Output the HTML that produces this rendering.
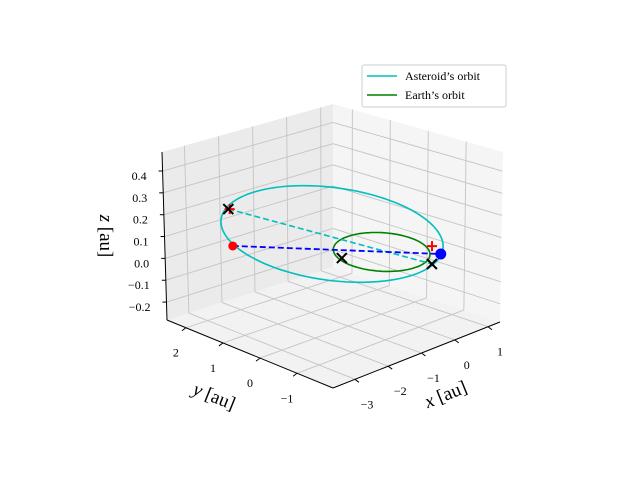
<!DOCTYPE html>
<html><head><meta charset="utf-8"><style>
html,body{margin:0;padding:0;background:#fff;}
svg{display:block;font-family:"Liberation Serif",serif;}
</style></head><body>
<svg id="chart" width="640" height="480" viewBox="0 0 640 480" xmlns="http://www.w3.org/2000/svg">
<g id="panes"></g>
<g id="grid"></g>
<g id="axes"></g>
<g id="series"></g>
<g id="labels"></g>
<text x="448" y="400" font-size="19" text-anchor="middle" transform="rotate(-22 448 400)"><tspan font-style="italic">x</tspan> [au]</text>
<text x="212" y="402" font-size="19" text-anchor="middle" transform="rotate(22 212 402)"><tspan font-style="italic">y</tspan> [au]</text>
<text x="100" y="236" font-size="19" text-anchor="middle" transform="rotate(90 100 236)"><tspan font-style="italic">z</tspan> [au]</text>
<g>
<rect x="362" y="65" width="144" height="42" rx="2" fill="#fff" fill-opacity="0.8" stroke="#ccc" stroke-width="1"/>
<line x1="367" y1="76" x2="397" y2="76" stroke="#00bfbf" stroke-width="1.5"/>
<text x="405" y="80" font-size="12">Asteroid’s orbit</text>
<line x1="367" y1="95" x2="397" y2="95" stroke="#008000" stroke-width="1.5"/>
<text x="405" y="99" font-size="12">Earth’s orbit</text>
</g>
</svg>
<script>
const xTicks=[-3,-2,-1,0,1];
const yTicks=[-1,0,1,2];
const zTicks=[-0.2,-0.1,0.0,0.1,0.2,0.3,0.4];
const xTickLabels=["−3","−2","−1","0","1"];
const yTickLabels=["−1","0","1","2"];
const zTickLabels=["−0.2","−0.1","0.0","0.1","0.2","0.3","0.4"];
const xRange=[-3.66,1.36];
const yRange=[-1.97,2.51];
const zRange=[-0.282,0.487];
const earthCenter=[0.05,0,0];
const earthRadius=[0.97];
const asteroidCenter=[-0.04,1.26,0];
const asteroidAxisU=[1.29,-1.84,0];
const asteroidAxisV=[1.71,1.62,0];
const redDot=[-2.01,2.17,0];
const blueDot=[0.88,-0.85,0];
const crossPoints=[[-0.70,3.47,0],[0.37,-1.07,0],[-0.79,0.32,0]];
const plusPoints=[[-0.68,3.45,0],[1.04,-0.47,0]];
const blueLine=[redDot,blueDot];
const cyanLine=[[-0.70,3.47,0],[0.37,-1.07,0]];

const NS="http://www.w3.org/2000/svg";
function mk(tag,attrs,parent){const e=document.createElementNS(NS,tag);for(const k in attrs)e.setAttribute(k,attrs[k]);parent.appendChild(e);return e;}
const C={b00:[333,388],b10:[500,322],b01:[167,320],b11:[333,267],t00:[333,213],t10:[503,152],t01:[162,152],t11:[333,104]};
function lerp(a,b,t){return [a[0]+(b[0]-a[0])*t,a[1]+(b[1]-a[1])*t];}
function box(u,v,w){
  const b=lerp(lerp(C.b00,C.b10,u),lerp(C.b01,C.b11,u),v);
  const t=lerp(lerp(C.t00,C.t10,u),lerp(C.t01,C.t11,u),v);
  return lerp(b,t,w);
}
function fx(x){return (x-xRange[0])/(xRange[1]-xRange[0]);}
function fy(y){return (y-yRange[0])/(yRange[1]-yRange[0]);}
function fz(z){return (z-zRange[0])/(zRange[1]-zRange[0]);}
const O=[380,252.6],EX=[33.3,-13.1],EY=[-37,-15.2],EZ=[-6.6,-221.6];
function P(p){return [O[0]+p[0]*EX[0]+p[1]*EY[0]+p[2]*EZ[0],O[1]+p[0]*EX[1]+p[1]*EY[1]+p[2]*EZ[1]];}
function pts(a){return a.map(p=>p[0].toFixed(1)+","+p[1].toFixed(1)).join(" ");}

const panes=document.getElementById('panes');
let e;
e=mk('polygon',{points:pts([box(0,0,0),box(1,0,0),box(1,1,0),box(0,1,0)]),fill:'#f2f2f2'},panes);


e=mk('polygon',{points:pts([box(0,1,0),box(1,1,0),box(1,1,1),box(0,1,1)]),fill:'#ebebeb'},panes);


e=mk('polygon',{points:pts([box(1,0,0),box(1,1,0),box(1,1,1),box(1,0,1)]),fill:'#f5f5f5'},panes);



const grid=document.getElementById('grid');
function gl(a,b,name){const l=mk('line',{x1:a[0],y1:a[1],x2:b[0],y2:b[1],stroke:'#c4c4c4','stroke-width':0.9},grid);}
xTicks.forEach(x=>{const u=fx(x);gl(box(u,0,0),box(u,1,0),'floor-grid-x');gl(box(u,1,0),box(u,1,1),'wall-grid-x');});
yTicks.forEach(y=>{const v=fy(y);gl(box(0,v,0),box(1,v,0),'floor-grid-y');gl(box(1,v,0),box(1,v,1),'wall-grid-y');});
zTicks.forEach(z=>{const w=fz(z);gl(box(0,1,w),box(1,1,w),'wall-grid-z');gl(box(1,1,w),box(1,0,w),'wall-grid-z');});

const axes=document.getElementById('axes');
function al(a,b,name){const l=mk('line',{x1:a[0],y1:a[1],x2:b[0],y2:b[1],stroke:'#000','stroke-width':1},axes);}
al(box(0,0,0),box(1,0,0),'x-axis-line');
al(box(0,0,0),box(0,1,0),'y-axis-line');
al(box(0,1,0),box(0,1,1),'z-axis-line');
const labels=document.getElementById('labels');
function tl(x,y,s,name,anchor){const t=mk('text',{x:x,y:y,'font-size':12,'text-anchor':anchor||'middle'},labels);t.textContent=s;}
xTicks.forEach((x,i)=>{const p=box(fx(x),0,0);al(p,[p[0]+4,p[1]+3],'x-tick');tl(p[0]+12,p[1]+29,xTickLabels[i],'x-tick-label');});
yTicks.forEach((y,i)=>{const p=box(0,fy(y),0);al(p,[p[0]-4,p[1]+3],'y-tick');tl(p[0]-10,p[1]+29,yTickLabels[i],'y-tick-label');});
zTicks.forEach((z,i)=>{const p=box(0,1,fz(z));al([p[0]-4,p[1]],p,'z-tick');tl(p[0]-16,p[1]+9,zTickLabels[i],'z-tick-label','end');});

const series=document.getElementById('series');
function orbit(c,u,v){const a=[];for(let i=0;i<=120;i++){const t=i/120*2*Math.PI;a.push(P([c[0]+u[0]*Math.cos(t)+v[0]*Math.sin(t),c[1]+u[1]*Math.cos(t)+v[1]*Math.sin(t),c[2]+u[2]*Math.cos(t)+v[2]*Math.sin(t)]));}return a;}
const r=earthRadius[0];
e=mk('polyline',{points:pts(orbit(asteroidCenter,asteroidAxisU,asteroidAxisV)),fill:'none',stroke:'#00bfbf','stroke-width':1.6},series);


e=mk('polyline',{points:pts(orbit(earthCenter,[r,0,0],[0,r,0])),fill:'none',stroke:'#008000','stroke-width':1.6},series);


e=mk('polyline',{points:pts(cyanLine.map(P)),fill:'none',stroke:'#00bfbf','stroke-width':1.6,'stroke-dasharray':'6,3'},series);


e=mk('polyline',{points:pts(blueLine.map(P)),fill:'none',stroke:'#0000ff','stroke-width':1.8,'stroke-dasharray':'6,3'},series);


plusPoints.forEach(p=>{const s=P(p);const g=mk('path',{d:`M${s[0]-5},${s[1]}h10M${s[0]},${s[1]-5}v10`,stroke:'#ff0000','stroke-width':2},series);

});
let s=P(redDot);
e=mk('circle',{cx:s[0],cy:s[1],r:4.5,fill:'#ff0000'},series);


s=P(blueDot);
e=mk('circle',{cx:s[0],cy:s[1],r:5.5,fill:'#0000ff'},series);


crossPoints.forEach(p=>{const s=P(p);const g=mk('path',{d:`M${s[0]-5},${s[1]-5}l10,10M${s[0]+5},${s[1]-5}l-10,10`,stroke:'#000','stroke-width':2},series);

});
</script>
</body></html>
